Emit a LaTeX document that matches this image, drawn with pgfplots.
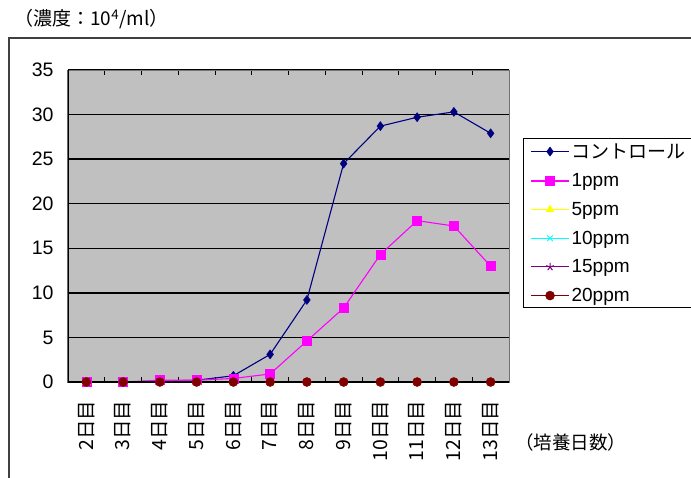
\documentclass[border=0pt]{standalone}
\usepackage{pgfplots}
\pgfplotsset{compat=1.18}
\usepackage{fontspec}
\setmainfont{Liberation Sans}
\newfontfamily\jp{Noto Sans CJK JP}
\definecolor{plotbg}{HTML}{C0C0C0}
\definecolor{ctrl}{HTML}{000080}
\definecolor{ppmone}{HTML}{FF00FF}
\definecolor{ppmfive}{HTML}{FFFF00}
\definecolor{ppmten}{HTML}{00FFFF}
\definecolor{ppmfifteen}{HTML}{800080}
\definecolor{ppmtwenty}{HTML}{800000}

% day index 0..11 = 2日目..13日目
\pgfplotstableread{
day ctrl one five ten fifteen twenty
0   0.0  0.0  0 0 0 0
1   0.0  0.0  0 0 0 0
2   0.1  0.2  0 0 0 0
3   0.2  0.2  0 0 0 0
4   0.7  0.4  0 0 0 0
5   3.1  0.9  0 0 0 0
6   9.2  4.6  0 0 0 0
7   24.5 8.3  0 0 0 0
8   28.7 14.3 0 0 0 0
9   29.7 18.1 0 0 0 0
10  30.3 17.5 0 0 0 0
11  27.9 13.0 0 0 0 0
}\datatable

\begin{document}
\begin{tikzpicture}[x=1pt,y=1pt]
\useasboundingbox (0,0) rectangle (691,477);
\fill[white] (0,0) rectangle (691,477);
\draw[line width=1.6pt, black!75] (9,-5) -- (9,439) -- (700,439);
\node[anchor=west, inner sep=0pt, font=\jp\fontsize{19}{19}\selectfont] at (14,458) {（濃度：10\textsuperscript{4}/ml）};
\node[anchor=west, inner sep=0pt, font=\jp\fontsize{18.5}{18.5}\selectfont] at (515,35) {（培養日数）};
\begin{axis}[
  at={(68pt,95pt)}, anchor=south west,
  scale only axis, width=441pt, height=312pt,
  xmin=-0.5, xmax=11.5, ymin=0, ymax=35,
  ytick={0,5,...,35},
  xtick={0,...,11},
  xticklabels={2日目,3日目,4日目,5日目,6日目,7日目,8日目,9日目,10日目,11日目,12日目,13日目},
  minor xtick={-0.5,0.5,...,11.5},
  tick align=inside,
  major x tick style={draw=none},
  minor tick length=5pt,
  major tick length=5pt,
  tick style={black, line width=1pt},
  xticklabel style={font=\jp\fontsize{19.5}{19.5}\selectfont, rotate=90, anchor=east},
  xticklabel shift={15pt},
  yticklabel style={font=\fontsize{19.5}{19.5}\selectfont},
  yticklabel shift={11pt},
  /pgf/number format/assume math mode=true,
  ymajorgrids,
  major grid style={black, line width=1.4pt},
  axis background/.style={fill=plotbg},
  axis line style={draw=black!55, line width=1pt},
  legend image code/.code={
    \draw[#1, mark repeat=2, mark phase=2] plot coordinates {(0pt,0pt) (19pt,0pt) (38pt,0pt)};
  },
  legend cell align=left,
  legend style={
    at={(1.0317,0.782)}, anchor=north west,
    draw=black, line width=1pt, fill=white,
    font=\fontsize{19}{19}\selectfont,
    inner xsep=7pt, inner ysep=3pt,
    row sep=10pt,
    nodes={inner sep=2pt},
  },
  every axis plot/.append style={line width=1.1pt},
]
\addplot[ctrl, mark=diamond*, mark size=4.5pt, mark options={solid, line width=0.5pt}] table[x=day, y=ctrl] \datatable;
\addplot[ppmone, mark=square*, mark size=4.5pt, mark options={solid, line width=0.5pt}] table[x=day, y=one] \datatable;
\addplot[ppmfive, mark=triangle*, mark size=4.5pt, mark options={solid, line width=0.5pt}] table[x=day, y=five] \datatable;
\addplot[ppmten, mark=x, mark size=4pt, mark options={solid, line width=1pt}] table[x=day, y=ten] \datatable;
\addplot[ppmfifteen, mark=star, mark size=4pt, mark options={solid, line width=1pt}] table[x=day, y=fifteen] \datatable;
\addplot[ppmtwenty, mark=*, mark size=4.5pt, mark options={solid, line width=0.5pt}] table[x=day, y=twenty] \datatable;
\legend{{\jp コントロール},1ppm,5ppm,10ppm,15ppm,20ppm}
\draw[black, line width=1.3pt] (rel axis cs:0,1) -- (rel axis cs:0,0) -- (rel axis cs:1,0);
\end{axis}
\end{tikzpicture}
\end{document}
